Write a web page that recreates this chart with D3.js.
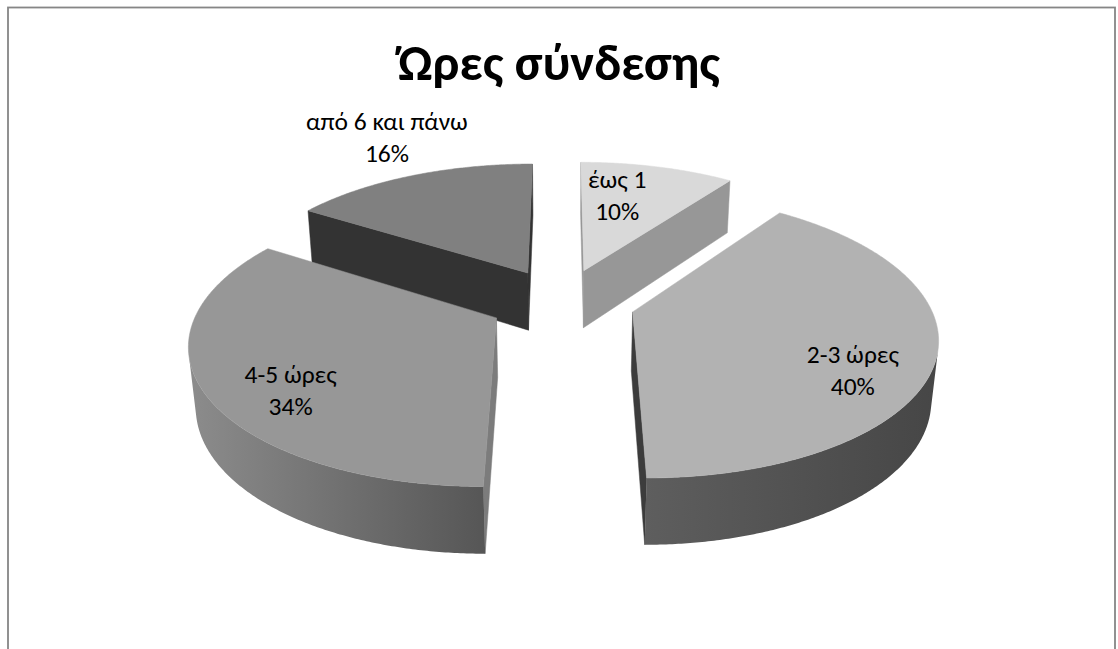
<!DOCTYPE html>
<html>
<head>
<meta charset="utf-8">
<script src="https://cdn.jsdelivr.net/npm/d3@7"></script>
<style>
  html, body { margin: 0; padding: 0; background: #ffffff; }
  svg { display: block; }
</style>
</head>
<body>
<svg id="chart" width="1118" height="649"></svg>
<script>
// ---- data ----
const chartTitle = "Ώρες σύνδεσης";
const categories = ["έως 1", "2-3 ώρες", "4-5 ώρες", "από 6 και πάνω"];
const shares = [10, 40, 34, 16];

// ---- styles (one entry per slice) ----
const topColors   = ["#d9d9d9", "#b2b2b2", "#979797", "#808080"];
const wallLight   = ["#a0a0a0", "#5e5e5e", "#8c8c8c", "#5a5a5a"];
const wallDark    = ["#7a7a7a", "#464646", "#565656", "#3a3a3a"];
const sideColors  = ["#979797", "#3c3c3c", "#7c7c7c", "#333333"];
// label placement inside the pie plane: angle (deg) and radius (pie radius = 1)
const labelAngle  = [13, 124, 229, 333];
const labelRadius = [0.60, 0.80, 0.80, 1.34];

// ---- 3D view ----
const W = 1118, H = 649;
const view = {
  cx: 562, cy: 301.4,     // screen position of the pie centre
  focal: 1615,            // focal length in px
  dist: 5.459,            // camera distance (pie radii)
  tilt: 27.2 * Math.PI / 180,
  explode: 0.248,         // radial offset of each slice
  depth: 0.227            // thickness of the pie
};
const ca = Math.cos(view.tilt), sa = Math.sin(view.tilt);
// camera position in world coordinates
const cam = [0, view.dist * sa, -view.dist * ca];

function project(X, Y, Z) {
  const u = X, v = Y * ca + Z * sa, w = view.dist + Z * ca - Y * sa;
  return [view.cx + view.focal * u / w, view.cy - view.focal * v / w];
}

const svg = d3.select("#chart");
const defs = svg.append("defs");

// frame
svg.append("rect")
  .attr("x", 8).attr("y", 7.5)
  .attr("width", 1107).attr("height", 700)
  .attr("fill", "none").attr("stroke", "#868686").attr("stroke-width", 1.8);

const pie = d3.pie().sort(null).value(d => d);
const arcs = pie(shares);
const total = d3.sum(shares);
const line = d3.line();
const toRad = Math.PI / 180;

const slices = arcs.map((a, i) => {
  const mid = (a.startAngle + a.endAngle) / 2;
  const ox = view.explode * Math.sin(mid), oz = view.explode * Math.cos(mid);
  return { i, a0: a.startAngle, a1: a.endAngle, mid, ox, oz, value: a.value };
});

// painter's order: farthest slice first
const order = slices.slice().sort((p, q) => q.oz - p.oz);

const gPie = svg.append("g");

order.forEach(s => {
  const g = gPie.append("g");
  const h = -view.depth;
  const rim = (t, y) => project(s.ox + Math.sin(t), y, s.oz + Math.cos(t));
  const apex = y => project(s.ox, y, s.oz);
  const n = Math.max(8, Math.ceil((s.a1 - s.a0) / (0.5 * toRad)));
  const thetas = d3.range(n + 1).map(k => s.a0 + (s.a1 - s.a0) * k / n);

  // radial cut faces
  const faces = [
    { t: s.a0, nrm: [-Math.cos(s.a0), Math.sin(s.a0)] },
    { t: s.a1, nrm: [Math.cos(s.a1), -Math.sin(s.a1)] }
  ];
  faces.forEach(f => {
    const dot = f.nrm[0] * (cam[0] - s.ox) + f.nrm[1] * (cam[2] - s.oz);
    if (dot > 0) {
      g.append("path")
        .attr("d", line([apex(0), rim(f.t, 0), rim(f.t, h), apex(h)]) + "Z")
        .attr("fill", sideColors[s.i])
        .attr("stroke", sideColors[s.i]).attr("stroke-width", 0.5);
    }
  });

  // outer wall: visible runs only
  const vis = thetas.map(t => {
    const px = s.ox + Math.sin(t), pz = s.oz + Math.cos(t);
    return Math.sin(t) * (cam[0] - px) + Math.cos(t) * (cam[2] - pz) > 0;
  });
  let runs = [], cur = null;
  thetas.forEach((t, k) => {
    if (vis[k]) { if (!cur) { cur = []; runs.push(cur); } cur.push(t); }
    else cur = null;
  });
  runs.forEach((run, r) => {
    if (run.length < 2) return;
    const topPts = run.map(t => rim(t, 0));
    const botPts = run.map(t => rim(t, h)).reverse();
    const pts = topPts.concat(botPts);
    const xs = pts.map(p => p[0]);
    const id = "wall-" + s.i + "-" + r;
    const grad = defs.append("linearGradient").attr("id", id)
      .attr("gradientUnits", "userSpaceOnUse")
      .attr("x1", d3.min(xs)).attr("x2", d3.max(xs))
      .attr("y1", 0).attr("y2", 0);
    grad.append("stop").attr("offset", 0).attr("stop-color", wallLight[s.i]);
    grad.append("stop").attr("offset", 1).attr("stop-color", wallDark[s.i]);
    g.append("path")
      .attr("d", line(pts) + "Z")
      .attr("fill", "url(#" + id + ")")
      .attr("stroke", "none");
  });

  // top face
  const top = [apex(0)].concat(thetas.map(t => rim(t, 0)));
  g.append("path")
    .attr("d", line(top) + "Z")
    .attr("fill", topColors[s.i])
    .attr("stroke", topColors[s.i]).attr("stroke-width", 0.5);
});

// data labels
const fontStack = "Carlito, Calibri, 'Noto Sans', 'Open Sans', sans-serif";
const gLab = svg.append("g")
  .attr("font-family", fontStack)
  .attr("font-size", 25.5)
  .attr("fill", "#000000")
  .attr("text-anchor", "middle");

slices.forEach(s => {
  const t = labelAngle[s.i] * toRad, r = labelRadius[s.i];
  const p = project(s.ox + r * Math.sin(t), 0, s.oz + r * Math.cos(t));
  const pct = Math.round(s.value / total * 100) + "%";
  gLab.append("text").attr("x", p[0]).attr("y", p[1] - 16).text(categories[s.i]);
  gLab.append("text").attr("x", p[0]).attr("y", p[1] + 16).text(pct);
});

// title
const titleEl = svg.append("text")
  .attr("x", 559).attr("y", 80)
  .attr("text-anchor", "middle")
  .attr("font-family", fontStack)
  .attr("font-weight", "bold")
  .attr("font-size", 40)
  .attr("fill", "#000000")
  .text(chartTitle);
const tw = titleEl.node().getComputedTextLength();
if (tw > 0) titleEl.attr("font-size", 40 * 322 / tw);
</script>
</body>
</html>
